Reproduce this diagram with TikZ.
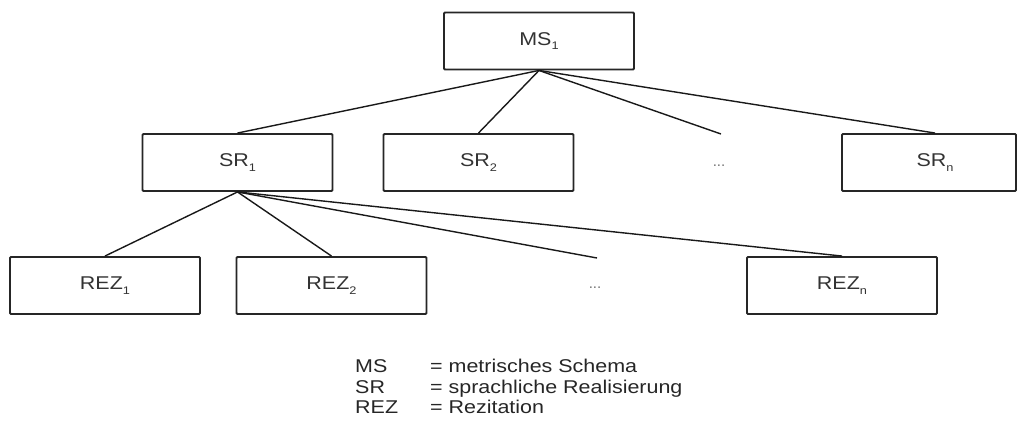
\documentclass[tikz,border=0pt]{standalone}
\usepackage{fontspec}
\setmainfont{Liberation Sans}
\newfontfamily\widefont[FakeStretch=1.16]{Liberation Sans}
\usetikzlibrary{calc}
\newcommand{\sbs}[1]{\raisebox{-4.5pt}{\fontsize{11}{11}\selectfont #1}}
\begin{document}
\begin{tikzpicture}[x=1pt,y=-1pt,
  box/.style={draw=black!85, line width=1.9pt, rounded corners=1pt, minimum width=190pt, minimum height=57pt, inner sep=0pt, font=\widefont\fontsize{18.5}{20}\selectfont, text=black!80},
  link/.style={draw=black!90, line width=1.4pt},
  dots/.style={font=\fontsize{15}{15}\selectfont, text=black!55, inner sep=0pt},
  leg/.style={anchor=base west, inner sep=0pt, font=\widefont\fontsize{18.5}{20}\selectfont, text=black!85}]
\useasboundingbox (0,0) rectangle (1018,425);
% top
\node[box] (MS) at (539,41) {MS\sbs{1}};
% second level
\node[box] (SR1) at (237.5,162.5) {SR\sbs{1}};
\node[box] (SR2) at (478.5,162.5) {SR\sbs{2}};
\node[dots] (dotsA) at (719,166) {...};
\node[box, minimum width=174pt] (SRn) at (929,162.5) {\hspace*{12pt}SR\sbs{n}};
\coordinate (endA) at (721,134);
% third level
\node[box] (REZ1) at (105,285.5) {REZ\sbs{1}};
\node[box] (REZ2) at (331.5,285.5) {REZ\sbs{2}};
\node[dots] (dotsB) at (595,288) {...};
\node[box] (REZn) at (842,285.5) {REZ\sbs{n}};
\coordinate (endB) at (597,258);
% connectors
\draw[link] (MS.south) -- (SR1.north);
\draw[link] (MS.south) -- (SR2.north);
\draw[link] (MS.south) -- (endA);
\draw[link] (MS.south) -- ($(SRn.north)+(6,0)$);
\draw[link] (SR1.south) -- (REZ1.north);
\draw[link] (SR1.south) -- (REZ2.north);
\draw[link] (SR1.south) -- (endB);
\draw[link] (SR1.south) -- (REZn.north);
% legend
\node[leg] (l1a) at (355,372) {MS};
\node[leg] (l1b) at (430,372) {= metrisches Schema};
\node[leg] (l2a) at (355,393) {SR};
\node[leg] (l2b) at (430,393) {= sprachliche Realisierung};
\node[leg] (l3a) at (355,413) {REZ};
\node[leg] (l3b) at (430,413) {= Rezitation};
\end{tikzpicture}
\end{document}
